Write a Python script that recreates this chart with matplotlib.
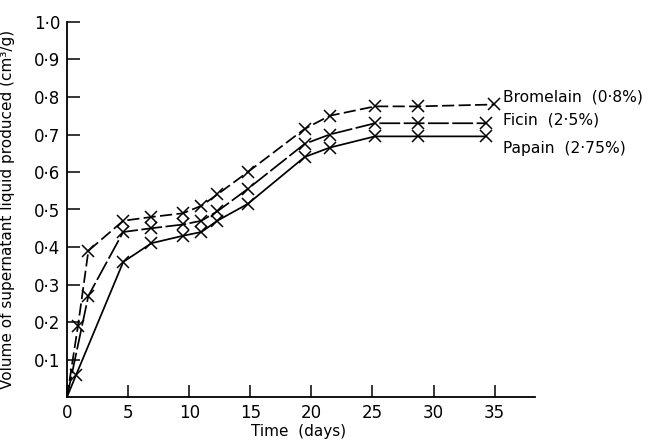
import matplotlib
matplotlib.use("Agg")
import matplotlib.pyplot as plt

# values (days, cm3/g)
bromelain_days = [0, 0.9, 1.75, 4.6, 6.9, 9.5, 11.0, 12.3, 14.8, 19.45, 21.5, 25.2, 28.7, 34.95]
bromelain_vol = [0, 0.19, 0.39, 0.47, 0.48, 0.49, 0.51, 0.54, 0.60, 0.715, 0.75, 0.775, 0.775, 0.78]

ficin_days = [0, 1.75, 4.6, 6.9, 9.5, 11.0, 12.3, 14.8, 19.45, 21.5, 25.2, 28.7, 34.3]
ficin_vol = [0, 0.27, 0.44, 0.45, 0.46, 0.47, 0.495, 0.555, 0.675, 0.70, 0.73, 0.73, 0.73]

papain_days = [0, 0.76, 4.6, 6.9, 9.5, 11.0, 12.3, 14.8, 19.45, 21.5, 25.2, 28.7, 34.3]
papain_vol = [0, 0.06, 0.36, 0.41, 0.43, 0.44, 0.47, 0.515, 0.64, 0.665, 0.695, 0.695, 0.695]

labels = ["Bromelain  (0\u00b78%)", "Ficin  (2\u00b75%)", "Papain  (2\u00b775%)"]
label_offsets = [(9, 7), (17, 3), (17, -12)]  # pixels from last point

x_ticks = [0, 5, 10, 15, 20, 25, 30, 35]
y_ticks = [0.1, 0.2, 0.3, 0.4, 0.5, 0.6, 0.7, 0.8, 0.9, 1.0]

fig = plt.figure(figsize=(6.49, 4.40), dpi=100)
ax = fig.add_axes([67 / 649, 43 / 440, 468 / 649, 375 / 440])

series = [
    (bromelain_days, bromelain_vol, (0, (7, 2.5))),
    (ficin_days, ficin_vol, (0, (12, 2))),
    (papain_days, papain_vol, "-"),
]
for (d, v, ls), lab, off in zip(series, labels, label_offsets):
    ax.plot(d, v, color="black", lw=1.25, ls=ls)
    ax.plot(d[1:], v[1:], ls="none", marker="x", ms=8, mew=1.1, color="black")
    ax.annotate(lab, xy=(d[-1], v[-1]), xytext=off, textcoords="offset pixels",
                fontsize=11.2, va="center", ha="left")

ax.set_xlim(0, 38.3)
ax.set_ylim(0, 1.0)
ax.set_xticks(x_ticks)
ax.set_xticklabels([str(t) for t in x_ticks])
ax.set_yticks(y_ticks)
ax.set_yticklabels([f"{t:.1f}".replace(".", "\u00b7") for t in y_ticks])

ax.spines["top"].set_visible(False)
ax.spines["right"].set_visible(False)
ax.spines["left"].set_linewidth(1.3)
ax.spines["bottom"].set_linewidth(1.3)
ax.tick_params(axis="both", direction="in", length=9, width=1.1, labelsize=12, pad=5)

ax.set_xlabel("Time  (days)", fontsize=11)
ax.xaxis.set_label_coords(0.494, -0.072)
ax.set_ylabel("Volume of supernatant liquid produced (cm\u00b3/g)", fontsize=11)
ax.yaxis.set_label_coords(-0.112, 0.5)

fig.savefig("out.png", dpi=100)
